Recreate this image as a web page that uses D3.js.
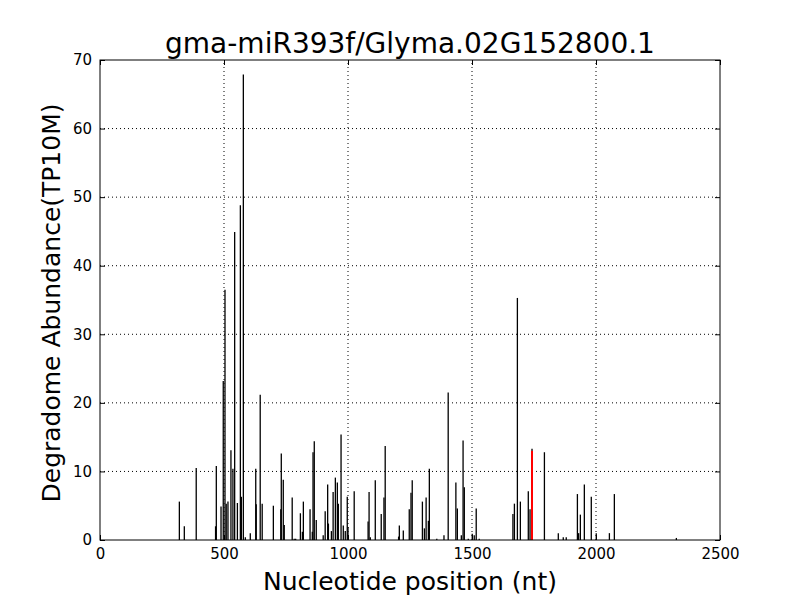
<!DOCTYPE html>
<html><head><meta charset="utf-8">
<script src="https://cdn.jsdelivr.net/npm/d3@7"></script>
<style>body{margin:0;background:#fff}svg{display:block}text{font-family:"DejaVu Sans",sans-serif}</style>
</head><body>
<script>
const title = "gma-miR393f/Glyma.02G152800.1";
const xLabel = "Nucleotide position (nt)";
const yLabel = "Degradome Abundance(TP10M)";
const xTicks = [0, 500, 1000, 1500, 2000, 2500];
const yTicks = [0, 10, 20, 30, 40, 50, 60, 70];
const positions = [320,340,388,466,469,488,497,504,509,516,528,536,543,554,566,570,578,586,606,628,630,646,654,699,729,731,739,743,775,783,789,808,816,820,847,856,859,864,872,900,908,918,921,933,940,949,957,961,972,981,989,997,1000,1025,1081,1085,1090,1110,1134,1145,1150,1204,1207,1223,1247,1254,1259,1300,1308,1315,1324,1328,1358,1387,1404,1435,1441,1457,1464,1469,1485,1501,1509,1517,1529,1665,1671,1683,1695,1727,1734,1742,1792,1848,1868,1880,1925,1930,1937,1953,1981,2001,2054,2074,2324];
const abundance = [5.6,2.0,10.5,2.0,10.8,4.9,23.2,36.5,5.3,5.6,13.1,10.4,44.9,5.4,48.8,6.3,67.9,0.4,1.0,10.4,5.2,21.2,5.3,5.0,4.5,12.6,8.8,2.2,6.2,0.2,0.2,3.9,1.2,5.6,4.5,1.2,12.8,14.4,2.9,0.7,4.2,8.1,2.4,1.3,7.0,9.1,8.4,5.3,15.4,2.1,1.3,6.3,1.9,7.1,2.7,7.0,0.4,8.7,3.8,6.2,13.7,0.5,2.1,1.4,4.5,6.9,8.7,5.6,1.7,6.2,2.8,10.4,0.2,0.7,21.5,8.4,4.6,0.7,14.5,7.7,0.2,0.9,0.7,4.6,0.2,3.8,5.3,35.3,5.6,7.1,4.5,13.3,12.8,1.0,0.4,0.4,6.7,1.0,3.7,8.1,6.3,1.0,1.0,6.7,0.3];
const targetPos = [1742];
const targetVal = [13.0];

const W = 800, H = 600;
const m = {l:100, r:80, t:60, b:60};
const svg = d3.select("body").append("svg").attr("width", W).attr("height", H);
const x = d3.scaleLinear().domain([0, 2500]).range([m.l, W - m.r]);
const y = d3.scaleLinear().domain([0, 70]).range([H - m.b, m.t]);

// grid
svg.append("g").selectAll("line").data(xTicks.slice(1, -1)).join("line")
  .attr("x1", d => x(d)).attr("x2", d => x(d)).attr("y1", y(0)).attr("y2", y(70))
  .attr("stroke", "#000").attr("stroke-width", 1).attr("stroke-dasharray", "1,3");
svg.append("g").selectAll("line").data(yTicks.slice(1, -1)).join("line")
  .attr("x1", x(0)).attr("x2", x(2500)).attr("y1", d => y(d)).attr("y2", d => y(d))
  .attr("stroke", "#000").attr("stroke-width", 1).attr("stroke-dasharray", "1,3");

// bars
const data = positions.map((p, i) => ({p, v: abundance[i]}));
svg.append("g").selectAll("line").data(data).join("line")
  .attr("x1", d => x(d.p)).attr("x2", d => x(d.p)).attr("y1", y(0)).attr("y2", d => y(d.v))
  .attr("stroke", "#000").attr("stroke-width", 1.3);
svg.append("g").selectAll("line").data(targetPos.map((p, i) => ({p, v: targetVal[i]}))).join("line")
  .attr("x1", d => x(d.p)).attr("x2", d => x(d.p)).attr("y1", y(0)).attr("y2", d => y(d.v))
  .attr("stroke", "#ff0000").attr("stroke-width", 2);

// axes (ticks inward, all four sides)
const tl = 5;
const fmt = d3.format("d");
svg.append("g").attr("transform", `translate(0,${y(0)})`)
  .call(d3.axisBottom(x).tickValues(xTicks).tickFormat(fmt).tickSizeInner(-tl).tickSizeOuter(0).tickPadding(8))
  .call(g => g.select(".domain").remove());
svg.append("g").attr("transform", `translate(0,${y(70)})`)
  .call(d3.axisTop(x).tickValues(xTicks).tickFormat("").tickSizeInner(-tl).tickSizeOuter(0))
  .call(g => g.select(".domain").remove());
svg.append("g").attr("transform", `translate(${x(0)},0)`)
  .call(d3.axisLeft(y).tickValues(yTicks).tickFormat(fmt).tickSizeInner(-tl).tickSizeOuter(0).tickPadding(8))
  .call(g => g.select(".domain").remove());
svg.append("g").attr("transform", `translate(${x(2500)},0)`)
  .call(d3.axisRight(y).tickValues(yTicks).tickFormat("").tickSizeInner(-tl).tickSizeOuter(0))
  .call(g => g.select(".domain").remove());
svg.selectAll(".tick text").attr("font-family", "DejaVu Sans").attr("font-size", 15).attr("fill", "#000");
svg.selectAll(".tick line").attr("stroke", "#000");

svg.append("rect").attr("x", x(0)).attr("y", y(70)).attr("width", x(2500) - x(0)).attr("height", y(0) - y(70))
  .attr("fill", "none").attr("stroke", "#000").attr("stroke-width", 1);

svg.append("text").attr("x", (x(0) + x(2500)) / 2).attr("y", 53).attr("text-anchor", "middle")
  .attr("font-size", 28).text(title);
svg.append("text").attr("x", (x(0) + x(2500)) / 2).attr("y", 590).attr("text-anchor", "middle")
  .attr("font-size", 25).text(xLabel);
svg.append("text").attr("transform", `translate(60,${(y(0) + y(70)) / 2 + 3}) rotate(-90)`).attr("text-anchor", "middle")
  .attr("font-size", 25).text(yLabel);
</script>
</body></html>
